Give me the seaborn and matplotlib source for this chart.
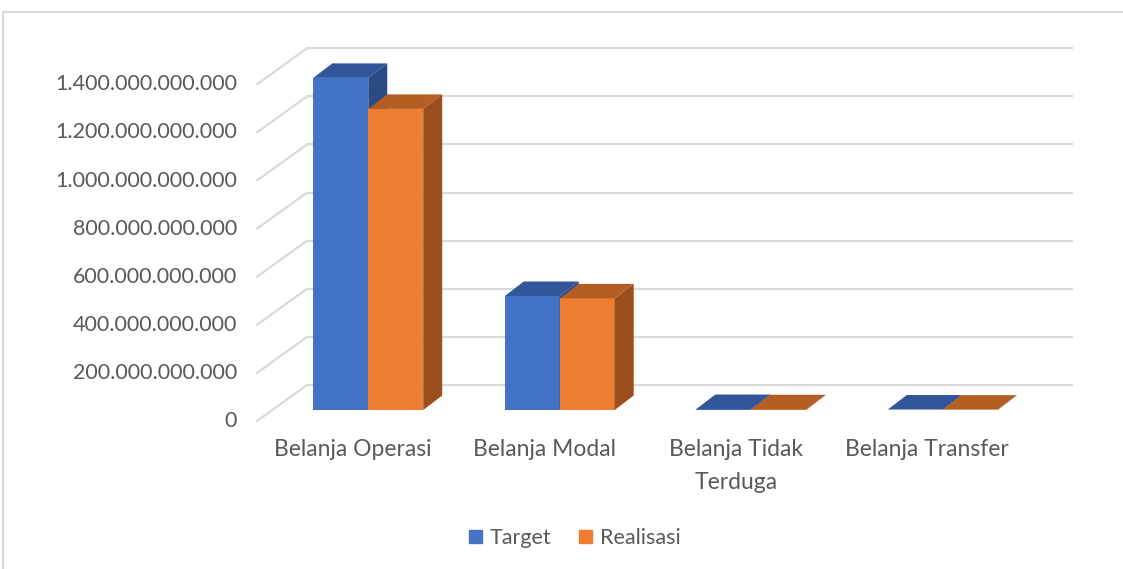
import numpy as np
import pandas as pd
import matplotlib
matplotlib.use("Agg")
import matplotlib.pyplot as plt
import seaborn as sns
from matplotlib.patches import Polygon, Rectangle, Patch

kategori = ["Belanja Operasi", "Belanja Modal", "Belanja Tidak\nTerduga", "Belanja Transfer"]
seri = ["Target", "Realisasi"]
target = [1381e9, 474e9, 4e9, 2e9]
realisasi = [1252e9, 464e9, 3e9, 1.5e9]
yticks = [0, 200e9, 400e9, 600e9, 800e9, 1000e9, 1200e9, 1400e9]
ylabels = ["0", "200.000.000.000", "400.000.000.000", "600.000.000.000",
           "800.000.000.000", "1.000.000.000.000", "1.200.000.000.000",
           "1.400.000.000.000"]

front_col = ["#4472C4", "#ED7D31"]
top_col = ["#31579A", "#B55E24"]
side_col = ["#2B4B84", "#9A4F1D"]
grid_col = "#D9D9D9"
text_col = "#595959"

df = pd.DataFrame({
    "Kategori": kategori * 2,
    "Nilai": target + realisasi,
    "Seri": ["Target"] * len(target) + ["Realisasi"] * len(realisasi),
})

sns.set_theme(style="white")
plt.rcParams["font.family"] = ["Lato", "DejaVu Sans"]

W, H = 1123, 569
fig = plt.figure(figsize=(W / 100, H / 100), dpi=100)
ax = fig.add_axes([272.5 / W, (H - 410) / H, 766 / W, 336.7 / H])
sns.barplot(data=df, x="Kategori", y="Nilai", hue="Seri", hue_order=seri,
            palette=front_col, saturation=1, width=0.574, errorbar=None,
            legend=False, linewidth=0, ax=ax)
ax.set_xlim(-0.5, 3.5)
ax.set_ylim(0, 1400e9)
ax.axis("off")

# pixel offsets -> data units
o = ax.transData.transform((0, 0))
sx = ax.transData.transform((1, 0))[0] - o[0]
sy = (ax.transData.transform((0, 1e9))[1] - o[1]) / 1e9
def off(px, py):
    return px / sx, py / sy

bx, by = off(34.5, 25)     # back wall
fx, fy = off(-15.5, -11)   # front edge
dx, dy = off(19, 14.5)     # bar depth

for t, lab in zip(yticks, ylabels):
    ax.plot([-0.5 + bx, 3.5 + bx], [t + by, t + by], color=grid_col, lw=1.6,
            zorder=0, clip_on=False, solid_capstyle="butt")
    ax.plot([-0.5 + fx, -0.5 + bx], [t + fy, t + by], color=grid_col, lw=1.6,
            zorder=0, clip_on=False)
    lx, _ = off(-35.5, 0)
    ax.text(-0.5 + lx, t + fy, lab, ha="right", va="center", fontsize=15.5,
            color=text_col)

for k, cont in enumerate(ax.containers):
    for p in cont.patches:
        x0, w, h = p.get_x(), p.get_width(), p.get_height()
        p.set_zorder(2 + k)
        top = [(x0, h), (x0 + w, h), (x0 + w + dx, h + dy), (x0 + dx, h + dy)]
        side = [(x0 + w, 0), (x0 + w + dx, dy), (x0 + w + dx, h + dy), (x0 + w, h)]
        ax.add_patch(Polygon(top, closed=True, fc=top_col[k], ec="none",
                             zorder=2 + k + 0.1, clip_on=False))
        ax.add_patch(Polygon(side, closed=True, fc=side_col[k], ec="none",
                             zorder=2 + k + 0.1, clip_on=False))

_, ly = off(0, -29)
for i, lab in enumerate(kategori):
    ax.text(i + fx, ly, lab, ha="center", va="top", fontsize=16.5,
            color=text_col, linespacing=1.7)

handles = [Patch(color=c, label=s) for c, s in zip(front_col, seri)]
leg = fig.legend(handles=handles, loc="center", bbox_to_anchor=(575 / W, 1 - 538 / H),
                 ncol=2, frameon=False, fontsize=15.5, handlelength=0.6,
                 handleheight=0.6, handletextpad=0.35, columnspacing=1.3)
for txt in leg.get_texts():
    txt.set_color(text_col)

fig.add_artist(Rectangle((3 / W, -0.1), 2, 1 - 12 / H + 0.1, transform=fig.transFigure,
                         fill=False, ec=grid_col, lw=1.5))

fig.savefig("out.png", dpi=100)
